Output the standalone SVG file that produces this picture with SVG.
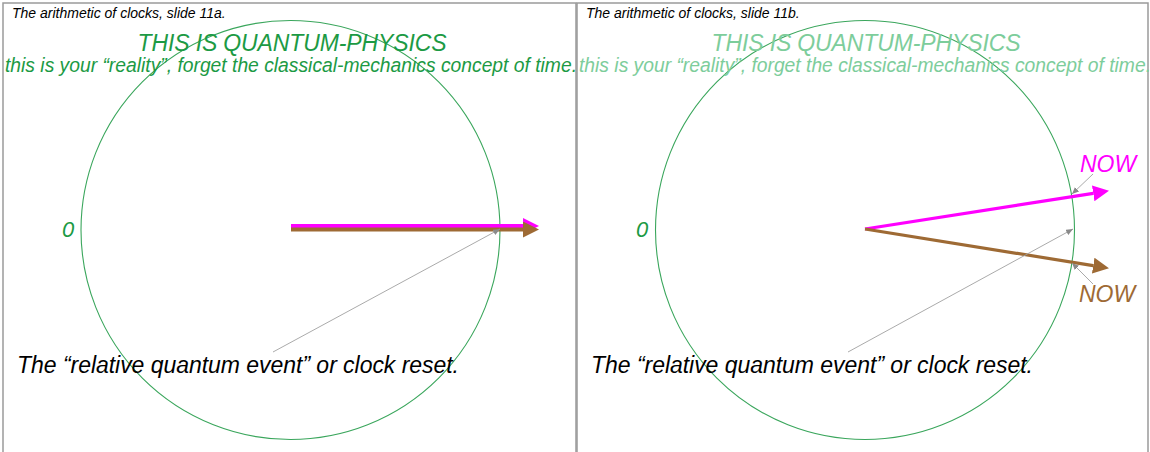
<svg xmlns="http://www.w3.org/2000/svg" width="1150" height="452" viewBox="0 0 1150 452">
  <style>
    text { font-family: "Liberation Sans", Arial, sans-serif; font-style: italic; }
    .panel { fill: #ffffff; stroke: #9a9a9a; stroke-width: 1.5; }
    .hdr { font-size: 14px; fill: #000000; }
    .title { font-size: 23px; text-anchor: middle; }
    .sub { font-size: 19.3px; }
    .g1 { fill: #1c9a44; }
    .g2 { fill: #7dcd9b; }
    .zero { font-size: 22px; fill: #1c9a44; }
    .foot { font-size: 23px; fill: #000000; }
    .now { font-size: 23px; }
    .clock { fill: none; stroke: #3aa65c; stroke-width: 1.1; }
    .ptr { fill: none; stroke: #a0a0a0; stroke-width: 0.9; marker-end: url(#gray); }
    .mag { stroke: #ff00ff; fill: none; marker-end: url(#hm); }
    .brn { stroke: #9e6a34; fill: none; marker-end: url(#hb); }
  </style>
  <defs>
    <marker id="hm" markerUnits="userSpaceOnUse" markerWidth="16" markerHeight="16" viewBox="0 0 16 16" refX="0" refY="8" orient="auto">
      <path d="M0,0 L16,8 L0,16 Z" fill="#ff00ff"/>
    </marker>
    <marker id="hb" markerUnits="userSpaceOnUse" markerWidth="16" markerHeight="16" viewBox="0 0 16 16" refX="0" refY="8" orient="auto">
      <path d="M0,0 L16,8 L0,16 Z" fill="#9e6a34"/>
    </marker>
    <marker id="gray" markerUnits="userSpaceOnUse" markerWidth="7" markerHeight="6" viewBox="0 0 7 6" refX="7" refY="3" orient="auto">
      <path d="M0,0 L7,3 L0,6 Z" fill="#8a8a8a"/>
    </marker>
  </defs>

  <g id="panel-a">
    <rect class="panel" x="3" y="3" width="573" height="470"/>
    <circle class="clock" cx="290.5" cy="230" r="209.5"/>
    <text class="hdr" x="12" y="17.5">The arithmetic of clocks, slide 11a.</text>
    <text class="title g1" x="292" y="50.5" textLength="309" lengthAdjust="spacing">THIS IS QUANTUM-PHYSICS</text>
    <text class="sub g1" x="5" y="72" textLength="572" lengthAdjust="spacing">this is your “reality”, forget the classical-mechanics concept of time.</text>
    <text class="zero" x="62" y="237">0</text>
    <text class="foot" x="17" y="373" textLength="442" lengthAdjust="spacing">The “relative quantum event” or clock reset.</text>
  </g>

  <g id="panel-b">
    <rect class="panel" x="577" y="3" width="571" height="470"/>
    <circle class="clock" cx="865" cy="230" r="209.5"/>
    <text class="hdr" x="586" y="17.5">The arithmetic of clocks, slide 11b.</text>
    <text class="title g2" x="866" y="50.5" textLength="309" lengthAdjust="spacing">THIS IS QUANTUM-PHYSICS</text>
    <text class="sub g2" x="579" y="72" textLength="572" lengthAdjust="spacing">this is your “reality”, forget the classical-mechanics concept of time.</text>
    <text class="zero" x="636" y="237">0</text>
    <text class="foot" x="591" y="373" textLength="442" lengthAdjust="spacing">The “relative quantum event” or clock reset.</text>
    <text id="now-top" class="now" x="1080" y="172" fill="#ff00ff">NOW</text>
    <text id="now-bottom" class="now" x="1079" y="302" fill="#9e6a34">NOW</text>
  </g>

  <g id="connectors">
    <line class="mag" x1="291" y1="226" x2="523" y2="226" stroke-width="4"/>
    <line class="brn" x1="291" y1="229.5" x2="523" y2="229.5" stroke-width="4"/>
    <line class="ptr" x1="273" y1="352" x2="500" y2="229"/>

    <line class="mag" x1="865" y1="229" x2="1093.2" y2="193.3" stroke-width="3.2"/>
    <line class="brn" x1="865" y1="229" x2="1093.2" y2="265.6" stroke-width="3.2"/>
    <line class="ptr" x1="848" y1="352" x2="1073" y2="229"/>
    <line class="ptr" x1="1093" y1="174" x2="1072" y2="194"/>
    <line class="ptr" x1="1093" y1="284" x2="1072" y2="263"/>
  </g>
</svg>
